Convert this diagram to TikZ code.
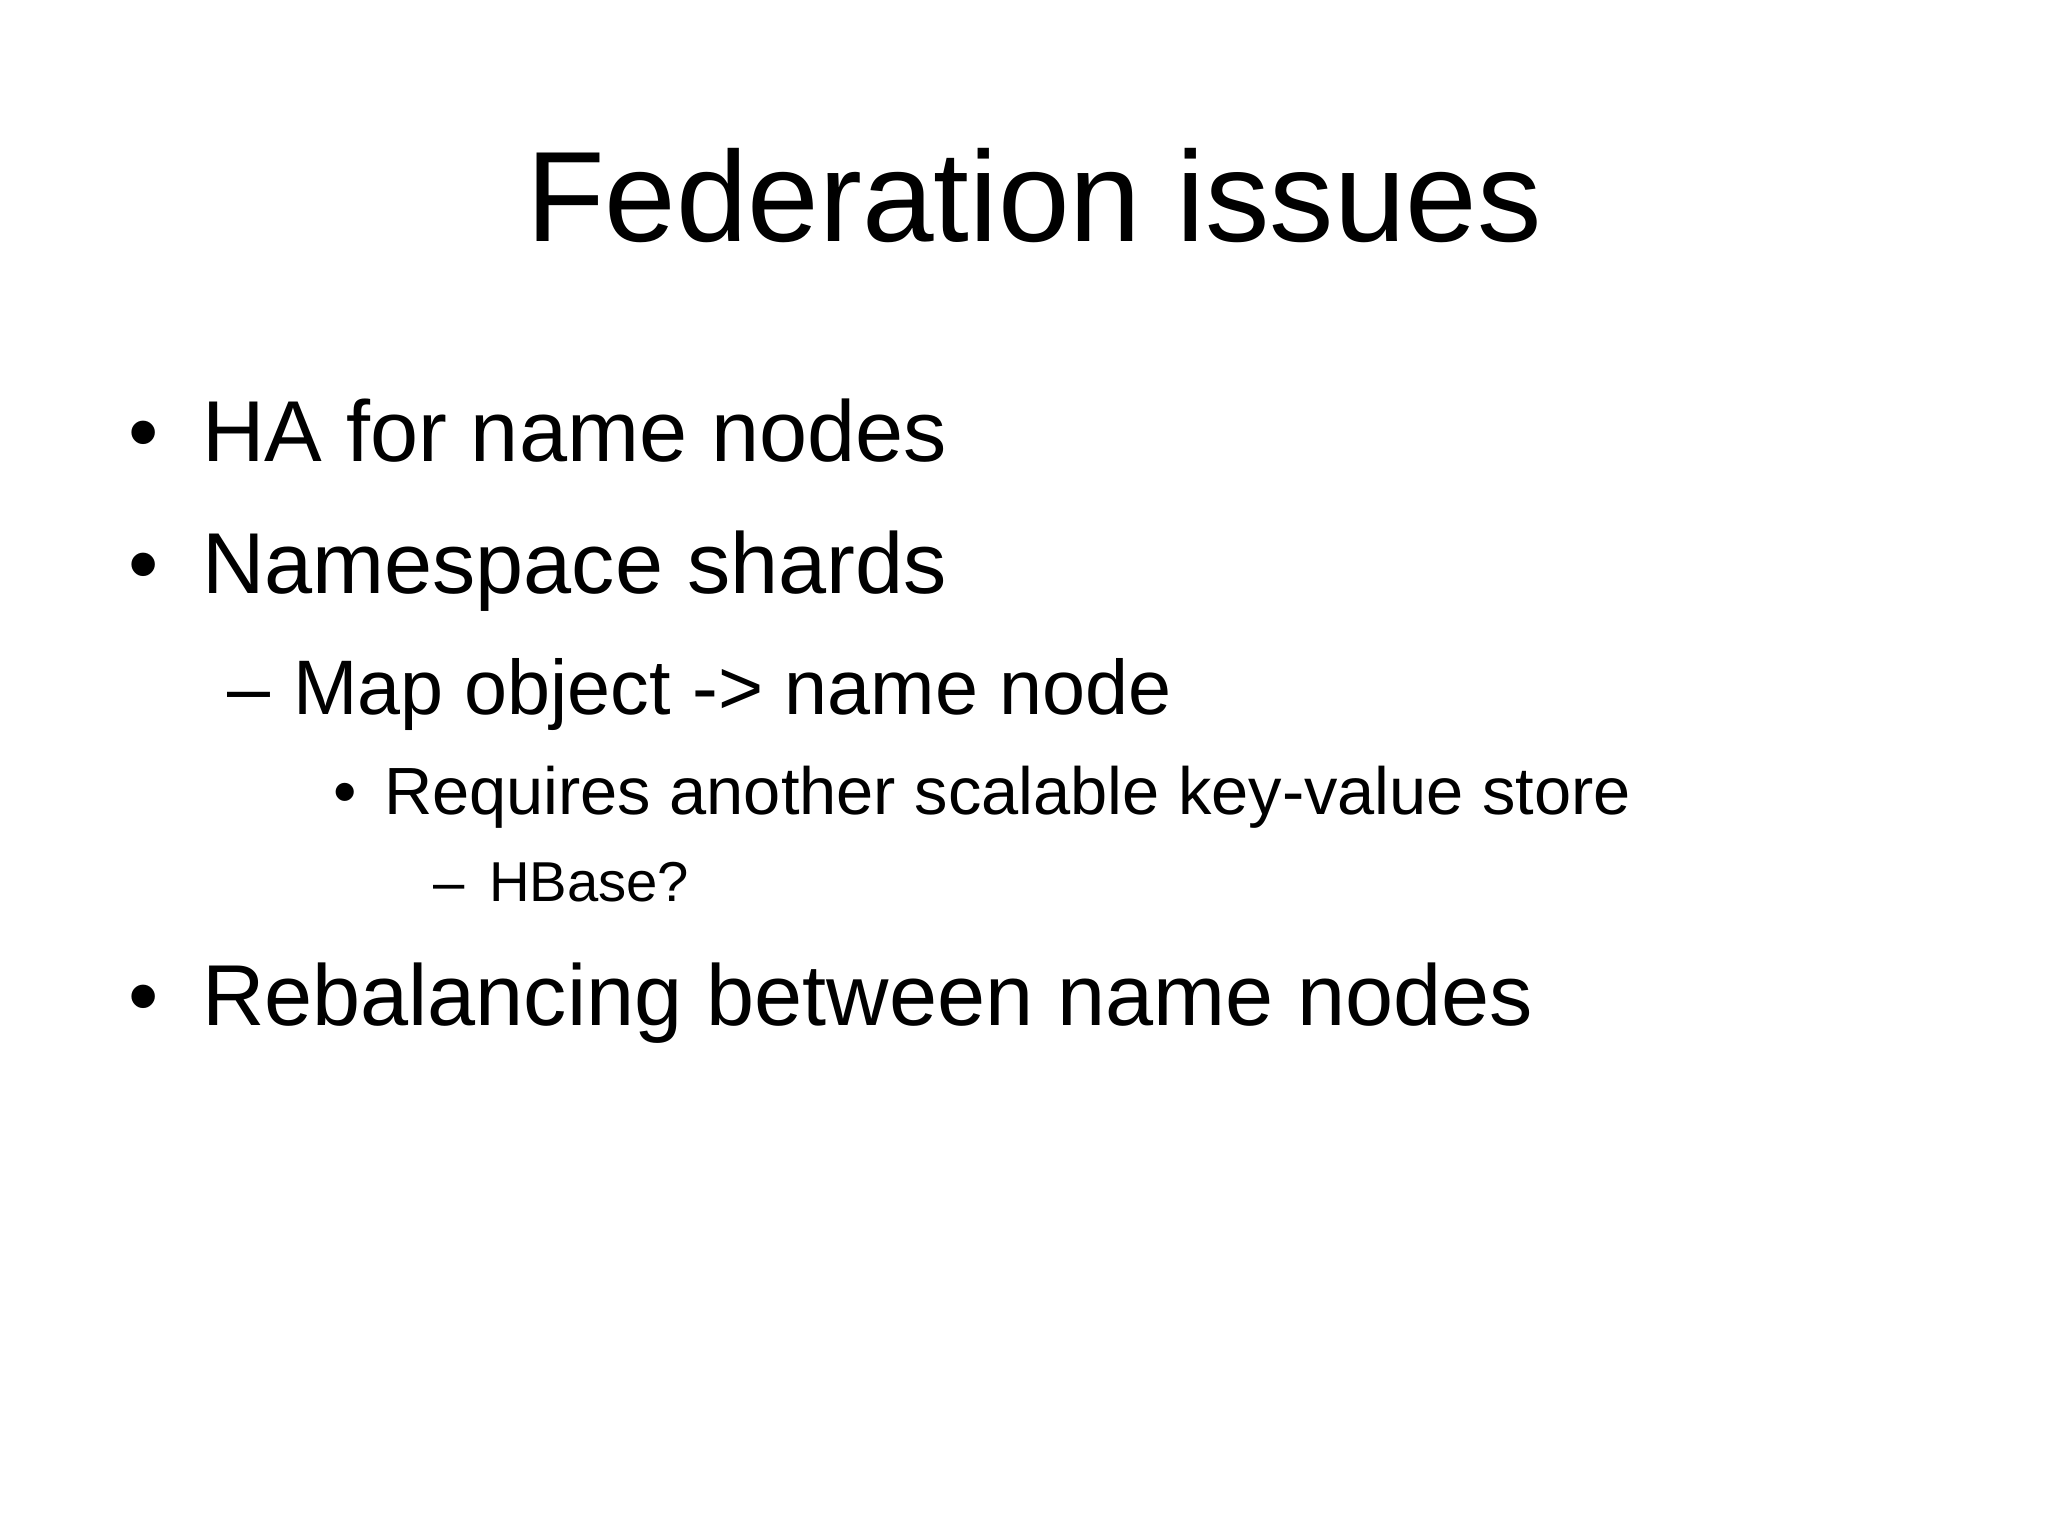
\documentclass[tikz,border=0pt]{standalone}
\usepackage{fontspec}
\setmainfont{Liberation Sans}
\begin{document}
\begin{tikzpicture}[x=1cm,y=1cm,
  txt/.style={anchor=base west,inner sep=0pt,outer sep=0pt}]
\useasboundingbox[fill=white] (0,0) rectangle (20.48,15.36);
\node[anchor=base,inner sep=0pt] (title) at (10.34,15.36-2.42) {\fontsize{36.6pt}{40pt}\selectfont Federation issues};
\newcommand\lvA{\fontsize{24.6pt}{28pt}\selectfont}
\newcommand\lvB{\fontsize{22pt}{26pt}\selectfont}
\newcommand\lvC{\fontsize{19pt}{22pt}\selectfont}
\newcommand\lvD{\fontsize{16pt}{19pt}\selectfont}
\node[txt] (b1m) at (1.28,15.36-4.62) {\lvA •};
\node[txt] (b1) at (2.02,15.36-4.62) {\lvA HA for name nodes};
\node[txt] (b2m) at (1.28,15.36-5.94) {\lvA •};
\node[txt] (b2) at (2.02,15.36-5.94) {\lvA Namespace shards};
\node[txt] (b3m) at (2.27,15.36-7.15) {\lvB –};
\node[txt] (b3) at (2.93,15.36-7.15) {\lvB Map object -> name node};
\node[txt] (b4m) at (3.33,15.36-8.15) {\lvC •};
\node[txt] (b4) at (3.84,15.36-8.15) {\lvC Requires another scalable key-value store};
\node[txt] (b5m) at (4.33,15.36-9.02) {\lvD –};
\node[txt] (b5) at (4.89,15.36-9.02) {\lvD HBase?};
\node[txt] (b6m) at (1.28,15.36-10.26) {\lvA •};
\node[txt] (b6) at (2.02,15.36-10.26) {\lvA Rebalancing between name nodes};
\end{tikzpicture}
\end{document}
